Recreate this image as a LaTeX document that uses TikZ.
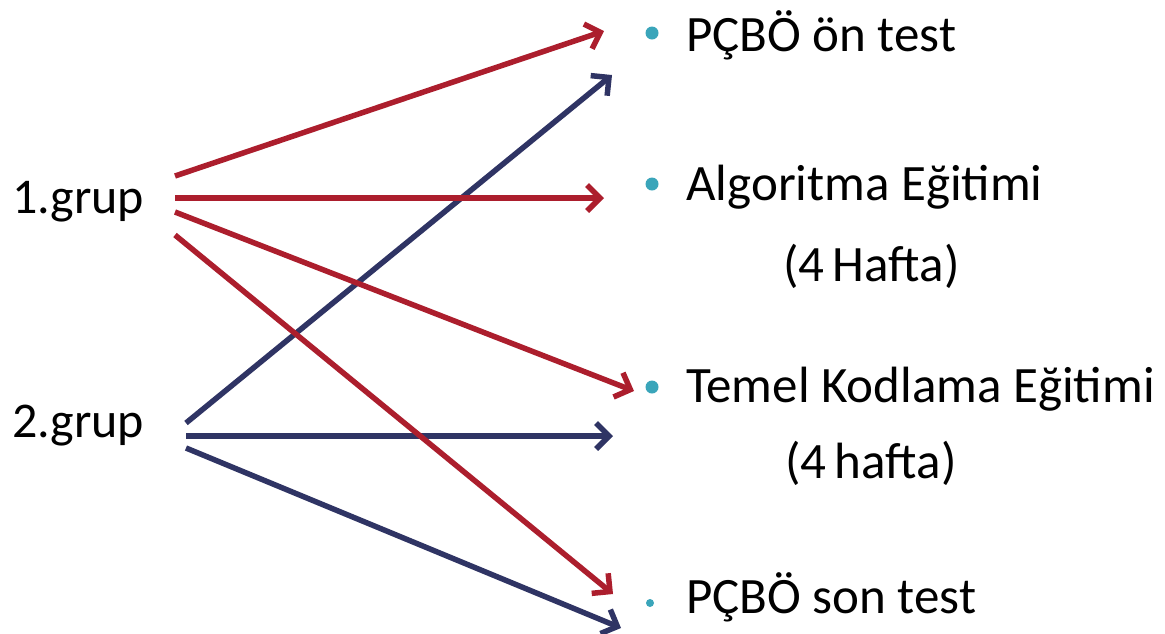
\documentclass[tikz,border=0pt]{standalone}
\usepackage{fontspec}
\setmainfont{Carlito}
\usetikzlibrary{arrows.meta}
\definecolor{redarrow}{RGB}{172,30,45}
\definecolor{bluearrow}{RGB}{47,52,100}
\definecolor{teal}{RGB}{58,165,186}
\begin{document}
\begin{tikzpicture}[x=1pt,y=-1pt,
  lbl/.style={anchor=base west,inner sep=0pt,font=\fontsize{51}{60}\selectfont},
  grp/.style={anchor=base west,inner sep=0pt,font=\fontsize{50}{58}\selectfont},
  bul/.style={circle,fill=teal,inner sep=0pt,minimum size=#1},
  redar/.style={draw=redarrow,line width=5.5pt,-{Straight Barb[length=13pt,width=26pt,line width=5.5pt]}},
  bluar/.style={draw=bluearrow,line width=5.5pt,-{Straight Barb[length=13pt,width=26pt,line width=5.5pt]}}]
\useasboundingbox (0,0) rectangle (1165,633);
% group labels
\node[grp] (g1) at (12,213) {1.grup};
\node[grp] (g2) at (12,437) {2.grup};
% bullets and texts
\node[bul=13pt] (b1) at (652,33) {};
\node[bul=13pt] (b2) at (652,184) {};
\node[bul=13pt] (b3) at (652,387) {};
\node[bul=8pt] (b4) at (650,603) {};
\node[lbl] (t1) at (686,51) {PÇBÖ ön test};
\node[lbl] (t2) at (686,200) {Algoritma Eğitimi};
\node[lbl] (t2b) at (783,281) {(4\,Hafta)};
\node[lbl] (t3) at (686,402) {Temel Kodlama Eğitimi};
\node[lbl] (t3b) at (785,478) {(4\,hafta)};
\node[lbl] (t4) at (686,613) {PÇBÖ son test};
% arrow end points
\coordinate (r1s) at (175,176);
\coordinate (r1e) at (604,31);
\coordinate (r2s) at (175,198);
\coordinate (r2e) at (604,198);
\coordinate (r3s) at (175,212);
\coordinate (r3e) at (634,391);
\coordinate (r4s) at (175,235);
\coordinate (r4e) at (613,594);
\coordinate (b5s) at (186,423);
\coordinate (b5e) at (612,75);
\coordinate (b6s) at (186,436);
\coordinate (b6e) at (613,436);
\coordinate (b7s) at (186,448);
\coordinate (b7e) at (621,628);
% blue arrows
\draw[bluar] (b5s) -- (b5e);
\draw[bluar] (b6s) -- (b6e);
\draw[bluar] (b7s) -- (b7e);
% red arrows
\draw[redar] (r1s) -- (r1e);
\draw[redar] (r2s) -- (r2e);
\draw[redar] (r3s) -- (r3e);
\draw[redar] (r4s) -- (r4e);
\end{tikzpicture}
\end{document}
